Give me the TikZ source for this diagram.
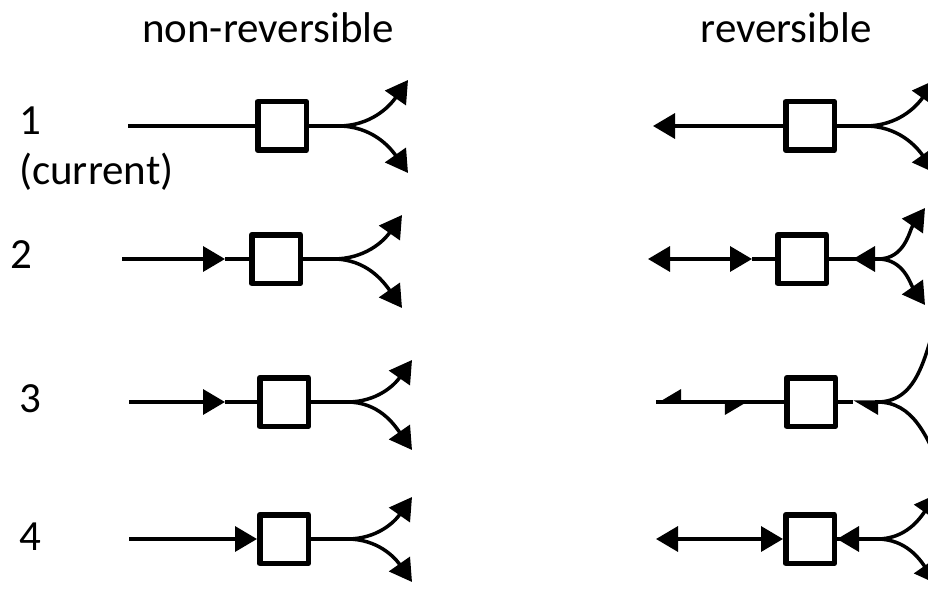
\documentclass[tikz,border=0pt]{standalone}
\usepackage{fontspec}
\setmainfont{Carlito}
\usetikzlibrary{arrows.meta}
\begin{document}
\begin{tikzpicture}[x=1pt,y=1pt,>={Triangle[length=22pt,width=25pt]},line join=round,
	font=\fontsize{43}{50}\selectfont,
	box/.style={draw,line width=5.5pt,minimum size=48.5pt,inner sep=0pt},
	link/.style={line width=3.5pt},
	lab/.style={anchor=base,inner sep=0pt}]
	\useasboundingbox (0,0) rectangle (928,590);
	\clip (0,0) rectangle (928,590);
	% Tiêu đề
	\node[lab] (hnr) at (268,547) {non-reversible};
	\node[lab] (hr) at (786,547) {reversible};
	\node[lab] (n1) at (30,455) {1};
	\node[lab,anchor=base west] (cur) at (19,405) {(current)};
	\node[lab] (n2) at (21,322) {2};
	\node[lab] (n3) at (30,178) {3};
	\node[lab] (n4) at (30,40) {4};
	% Hộp
	\node[box] (l1) at (282,464) {};
	\node[box] (l2) at (276,331) {};
	\node[box] (l3) at (284,188) {};
	\node[box] (l4) at (284,51) {};
	\node[box] (r1) at (810,464) {};
	\node[box] (r2) at (802,331) {};
	\node[box] (r3) at (811,188) {};
	\node[box] (r4) at (810,51) {};
	% Cột trái
	\coordinate (s1) at (128,464);
	\coordinate (s2) at (122,331); \coordinate (m2) at (225,331);
	\coordinate (s3) at (129,188); \coordinate (m3) at (225,188);
	\coordinate (s4) at (129,51);
	\draw[link] (s1)--(l1);
	\draw[link,->] (s2)--(m2); \draw[link] (m2)--(l2);
	\draw[link,->] (s3)--(m3); \draw[link] (m3)--(l3);
	\draw[link,->] (s4)--(l4);
	\foreach \r/\fx/\fy/\tx/\uy/\dy in {1/338/464/408/510/417,2/333/331/402/375/282,3/347/188/412/230/140,4/347/51/412/93/8}{
		\coordinate (f\r) at (\fx,\fy);
		\coordinate (u\r) at (\tx,\uy); \coordinate (d\r) at (\tx,\dy);
		\draw[link] (l\r)--(f\r);
		\draw[link,->] (f\r) to[out=0,in=235] (u\r);
		\draw[link,->] (f\r) to[out=0,in=125] (d\r);
	}
	% Cột phải
	\coordinate (e1) at (653,464); \coordinate (g1) at (865,464);
	\coordinate (e2) at (648,331); \coordinate (h2) at (752,331);
	\coordinate (k2) at (853,331); \coordinate (g2) at (878,331);
	\coordinate (e3) at (656,188); \coordinate (h3) at (750,188);
	\coordinate (k3) at (853,188); \coordinate (g3) at (877,188);
	\coordinate (e4) at (656,51); \coordinate (g4) at (877,51);
	\draw[link,->] (r1)--(e1);
	\draw[link,<->] (e2)--(h2); \draw[link] (h2)--(r2);
	\draw[link,->] (g2)--(k2); \draw[link] (k2)--(r2);
	\draw[link,-{Triangle[length=22pt,width=25pt,right]}] (h3)--(e3);
	\draw[link,-{Triangle[length=22pt,width=25pt,right]}] (e3)--(h3);
	\draw[link] (h3)--(r3);
	\draw[link,-{Triangle[length=22pt,width=25pt,left]}] (g3)--(k3);
	\draw[link] (k3)--(r3);
	\draw[link,<->] (e4)--(r4);
	\draw[link,->] (g4)--(r4);
	\foreach \r/\tx/\uy/\dy in {1/935/510/417,2/925/382/285,4/937/96/6}{
		\coordinate (u\r) at (\tx,\uy); \coordinate (d\r) at (\tx,\dy);
		\draw[link] (r\r)--(g\r);
		\draw[link,->] (g\r) to[out=0,in=235] (u\r);
		\draw[link,->] (g\r) to[out=0,in=125] (d\r);
	}
	\coordinate (u3) at (940,280); \coordinate (d3) at (942,120);
	\draw[link] (g3) to[out=0,in=250] (u3);
	\draw[link] (g3) to[out=0,in=115] (d3);
\end{tikzpicture}
\end{document}
